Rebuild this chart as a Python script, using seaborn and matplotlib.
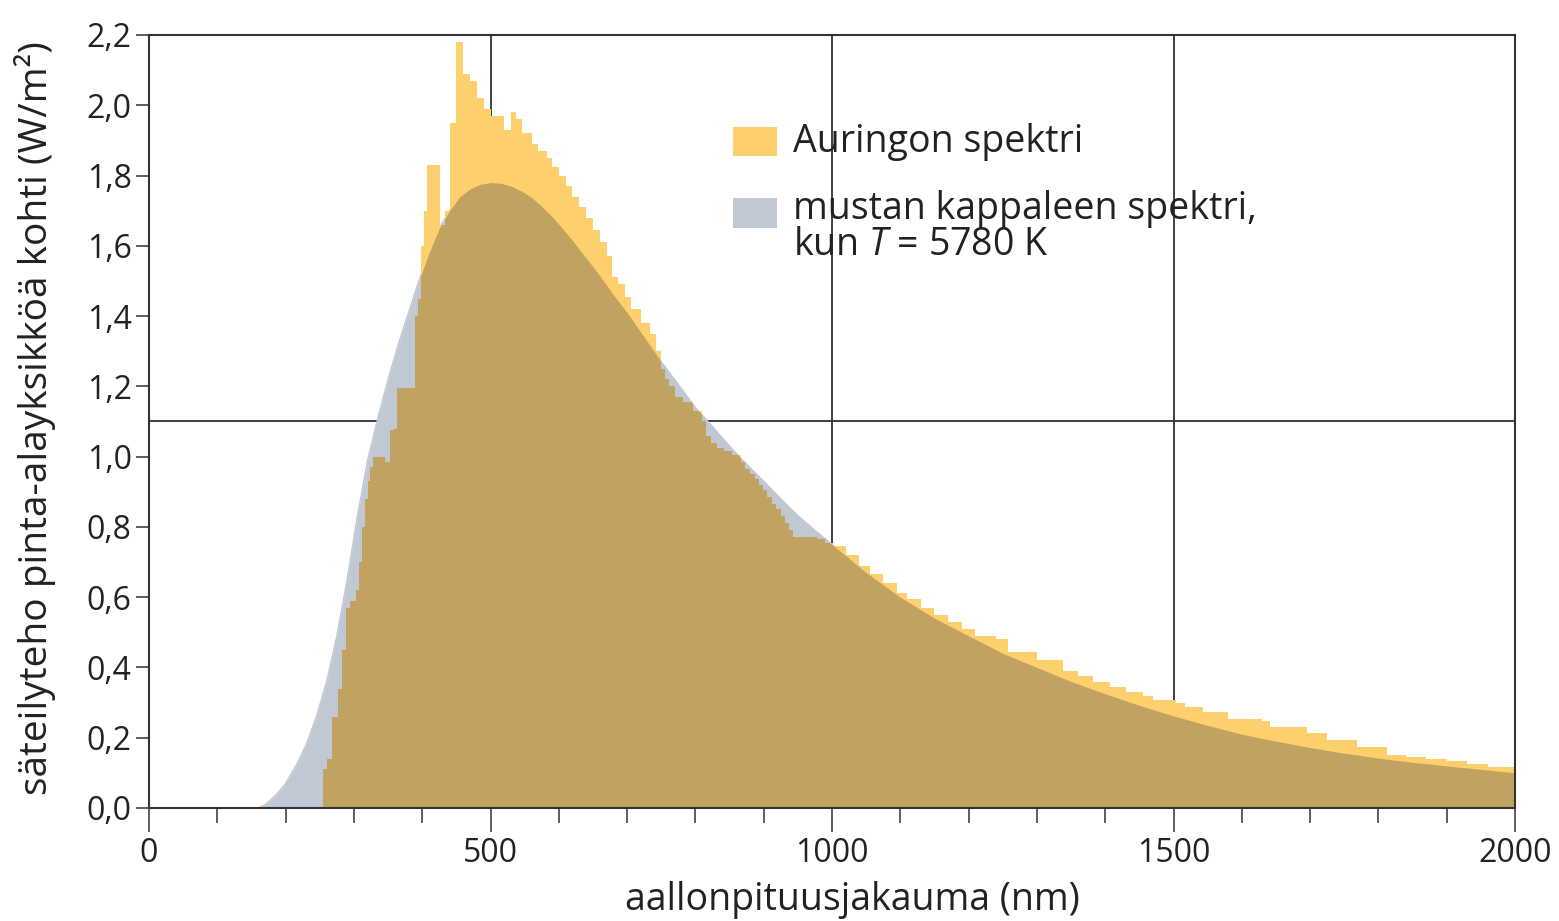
import matplotlib
matplotlib.use("Agg")
import matplotlib.pyplot as plt
from matplotlib.patches import Rectangle
import seaborn as sns

# mustan kappaleen spektri (T = 5780 K)
bb_nm = [160, 170, 185, 200, 215, 230, 245, 260, 275, 290, 305, 320, 335, 350,
         365, 380, 395, 410, 425, 440, 455, 470, 485, 500, 515, 530, 545, 560,
         575, 590, 605, 620, 640, 660, 680, 700, 725, 750, 775, 800, 825, 850,
         875, 900, 925, 950, 975, 1000, 1050, 1100, 1150, 1200, 1250, 1300,
         1350, 1400, 1450, 1500, 1550, 1600, 1650, 1700, 1750, 1800, 1850,
         1900, 1950, 2000]
bb_val = [0.0, 0.01, 0.035, 0.07, 0.12, 0.18, 0.26, 0.36, 0.49, 0.65, 0.83,
          0.99, 1.11, 1.22, 1.32, 1.41, 1.50, 1.58, 1.65, 1.70, 1.74, 1.762,
          1.775, 1.78, 1.778, 1.77, 1.756, 1.738, 1.712, 1.683, 1.65, 1.615,
          1.565, 1.515, 1.46, 1.41, 1.34, 1.27, 1.205, 1.14, 1.085, 1.03,
          0.978, 0.93, 0.88, 0.832, 0.79, 0.75, 0.67, 0.60, 0.54, 0.49, 0.44,
          0.40, 0.36, 0.325, 0.292, 0.262, 0.235, 0.21, 0.19, 0.172, 0.156,
          0.142, 0.13, 0.12, 0.11, 0.10]

# Auringon spektri, step bins (edges in nm, one value per bin)
sun_edges = [254, 261, 268, 276, 282, 289, 294, 303, 308, 312, 316, 320, 324,
             328, 345, 353, 358, 363, 390, 394, 398, 402, 407, 426, 434, 441,
             450, 460, 470, 480, 490, 500, 519, 530, 538, 546, 560, 570, 582,
             590, 600, 610, 620, 630, 640, 650, 660, 670, 678, 686, 697, 705,
             720, 734, 742, 750, 756, 762, 770, 782, 797, 809, 815, 823, 831,
             842, 853, 866, 873, 880, 887, 893, 899, 905, 912, 918, 925, 931,
             937, 943, 978, 990, 1002, 1020, 1040, 1056, 1075, 1095, 1110,
             1130, 1150, 1170, 1190, 1210, 1240, 1258, 1300, 1338, 1360, 1382,
             1407, 1431, 1455, 1470, 1504, 1517, 1543, 1580, 1630, 1641, 1695,
             1725, 1768, 1812, 1840, 1870, 1900, 1930, 1960, 2000]
sun_vals = [0.11, 0.14, 0.26, 0.34, 0.45, 0.57, 0.59, 0.62, 0.70, 0.80, 0.88,
            0.93, 0.97, 1.00, 0.985, 1.075, 1.08, 1.195, 1.40, 1.45, 1.60,
            1.70, 1.83, 1.66, 1.70, 1.95, 2.18, 2.09, 2.07, 2.02, 1.99, 1.97,
            1.93, 1.98, 1.96, 1.92, 1.89, 1.87, 1.85, 1.825, 1.80, 1.77, 1.74,
            1.71, 1.68, 1.645, 1.61, 1.57, 1.51, 1.49, 1.455, 1.42, 1.38, 1.35,
            1.30, 1.25, 1.22, 1.20, 1.17, 1.155, 1.13, 1.10, 1.06, 1.04, 1.025,
            1.015, 1.005, 0.985, 0.965, 0.95, 0.935, 0.92, 0.905, 0.885, 0.865,
            0.85, 0.83, 0.81, 0.79, 0.77, 0.765, 0.755, 0.745, 0.72, 0.69,
            0.665, 0.64, 0.612, 0.595, 0.57, 0.55, 0.53, 0.51, 0.49, 0.48,
            0.445, 0.42, 0.39, 0.375, 0.36, 0.345, 0.331, 0.32, 0.307, 0.30,
            0.288, 0.274, 0.252, 0.247, 0.231, 0.214, 0.194, 0.173, 0.152,
            0.146, 0.14, 0.133, 0.126, 0.118]

x_major = [0, 500, 1000, 1500, 2000]
x_major_labels = ["0", "500", "1000", "1500", "2000"]
x_minor = [100, 200, 300, 400, 600, 700, 800, 900, 1100, 1200, 1300, 1400,
           1600, 1700, 1800, 1900]
y_ticks = [0.0, 0.2, 0.4, 0.6, 0.8, 1.0, 1.2, 1.4, 1.6, 1.8, 2.0, 2.2]
y_labels = ["0,0", "0,2", "0,4", "0,6", "0,8", "1,0", "1,2", "1,4", "1,6",
            "1,8", "2,0", "2,2"]
grid_x = [500, 1000, 1500]
grid_y = [1.1]

legend_labels = ["Auringon spektri", "mustan kappaleen spektri,\nkun $T$ = 5780 K"]

SUN = "#fdd06d"
BB = "#c0c8d4"
BOTH = "#c2a260"
LINE = "#333333"

sns.set_theme(style="ticks")
plt.rcParams["font.family"] = ["Open Sans", "DejaVu Sans"]
plt.rcParams["mathtext.fontset"] = "custom"
plt.rcParams["mathtext.rm"] = "Open Sans"
plt.rcParams["mathtext.it"] = "Open Sans:italic"

fig, ax = plt.subplots(figsize=(15.59, 9.21), dpi=100)
fig.subplots_adjust(left=0.0956, right=0.9718, bottom=0.1227, top=0.962)

# grid lines behind the spectra
for gx in grid_x:
    ax.axvline(gx, color=LINE, lw=1.3, zorder=0.5)
for gy in grid_y:
    ax.axhline(gy, color=LINE, lw=1.3, zorder=0.5)

# blackbody area
sns.lineplot(x=bb_nm, y=bb_val, color=BB, lw=1, ax=ax, zorder=1)
ax.fill_between(bb_nm, bb_val, color=BB, lw=0, zorder=1)

# solar spectrum on top
sun = ax.stairs(sun_vals, sun_edges, fill=True, color=SUN, lw=0, zorder=2)

# overlap of the two, drawn in a darker tan
both = ax.fill_between(bb_nm, bb_val, color=BOTH, lw=0, zorder=3)
both.set_clip_path(sun)

ax.set_xlim(0, 2000)
ax.set_ylim(0, 2.2)
ax.set_xticks(x_major)
ax.set_xticklabels(x_major_labels)
ax.set_xticks(x_minor, minor=True)
ax.set_yticks(y_ticks)
ax.set_yticklabels(y_labels)

ax.tick_params(axis="x", which="major", length=17, width=1.1, color=LINE,
               labelsize=23, pad=4, labelcolor="#222222")
ax.tick_params(axis="x", which="minor", length=11, width=1.1, color=LINE)
ax.tick_params(axis="y", length=9.5, width=1.1, color=LINE, labelsize=23,
               pad=3, labelcolor="#222222")

for side in ["left", "right", "top", "bottom"]:
    ax.spines[side].set_visible(True)
    ax.spines[side].set_color(LINE)
    ax.spines[side].set_linewidth(1.5)
    ax.spines[side].set_zorder(4)

ax.set_xlabel("aallonpituusjakauma (nm)", fontsize=27, color="#222222")
ax.xaxis.set_label_coords(0.515, -0.094)
ax.set_ylabel("säteilyteho pinta-alayksikköä kohti (W/m²)", fontsize=28,
              color="#222222")
ax.yaxis.set_label_coords(-0.068, 0.505)

# legend drawn by hand: square swatches and text
ax.add_patch(Rectangle((0.4275, 0.8435), 0.0322, 0.0375, transform=ax.transAxes,
                       color=SUN, lw=0, zorder=5))
ax.add_patch(Rectangle((0.4275, 0.7503), 0.0322, 0.0388, transform=ax.transAxes,
                       color=BB, lw=0, zorder=5))
ax.text(0.4715, 0.862, legend_labels[0], transform=ax.transAxes, fontsize=27,
        va="center", ha="left", color="#222222", zorder=5)
ax.text(0.4715, 0.800, legend_labels[1], transform=ax.transAxes, fontsize=27,
        va="top", ha="left", color="#222222", linespacing=0.95, zorder=5)

fig.savefig("out.png", dpi=100)
